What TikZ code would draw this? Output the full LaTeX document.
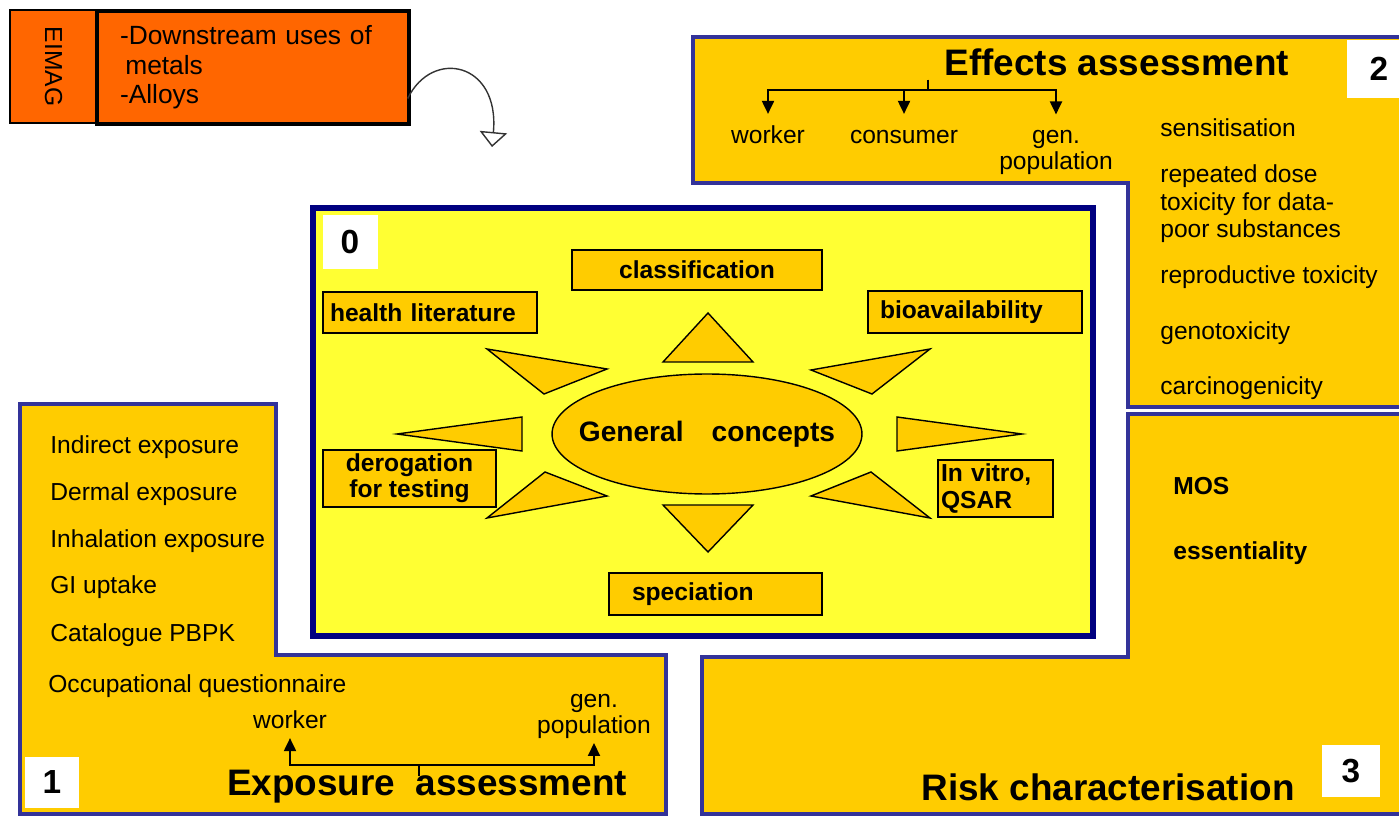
\documentclass[tikz,border=0pt]{standalone}
\usepackage{fontspec}
\setmainfont{Liberation Sans}
\usetikzlibrary{shapes.geometric,arrows.meta}
\definecolor{amber}{HTML}{FFCC00}
\definecolor{lemon}{HTML}{FFFF33}
\definecolor{flame}{HTML}{FF6600}
\definecolor{frame}{HTML}{333399}
\definecolor{navy}{HTML}{000080}
\tikzset{
  panel/.style={draw=frame, fill=amber, line width=2.8pt, line join=miter},
  core/.style={draw=navy, fill=lemon, line width=3.2pt},
  ray/.style={draw=black, fill=amber, line width=0.8pt, line join=miter},
  tagbox/.style={draw=black, fill=amber, line width=0.8pt, inner sep=0pt, font=\bfseries\fontsize{14}{15}\selectfont},
  item/.style={anchor=west, inner sep=0pt, font=\fontsize{14}{16}\selectfont},
  bitem/.style={anchor=west, inner sep=0pt, font=\bfseries\fontsize{14}{16}\selectfont},
  lab/.style={inner sep=0pt, align=center, font=\fontsize{14}{14.5}\selectfont},
  heading/.style={inner sep=0pt, font=\bfseries\fontsize{21}{24}\selectfont},
  numbox/.style={fill=white, inner sep=0pt, font=\bfseries\fontsize{19}{22}\selectfont},
  downtree/.style={line width=1.1pt, -{Triangle[length=0.26cm, width=0.24cm]}, shorten >=0.22cm},
  uptree/.style={line width=1.1pt, -{Triangle[length=0.26cm, width=0.24cm]}, shorten >=0.04cm},
  swoop/.style={draw=black!80, line width=0.8pt, -{Triangle[open, length=0.3cm, width=0.55cm]}},
}
\begin{document}
\begin{tikzpicture}[x=0.02cm, y=-0.02cm]
  \clip (0,0) rectangle (1399,817);
  \fill[white] (0,0) rectangle (1399,817);

  \node[draw=black, fill=flame, line width=1pt, rotate=-90, minimum width=2.26cm, minimum height=1.74cm, inner sep=0pt, font=\fontsize{14}{16}\selectfont] (eimag) at (53.5,66.5) {EIMAG};
  \node[draw=black, fill=flame, line width=2pt, minimum width=6.24cm, minimum height=2.26cm, inner xsep=0.46cm, inner ysep=0pt, text width=5.32cm, align=left, font=\fontsize{15}{16.8}\selectfont] (uses) at (253,67.5) {-Downstream uses of\\ \hspace*{3pt}metals\\-Alloys};
  \coordinate (arrowend) at (492,147);
  \draw[swoop] ([shift={(-3,31)}]uses.east) .. controls (432,48) and (500,62) .. (arrowend);

  \draw[panel] (693,37) -- (1410,37) -- (1410,407) -- (1128,407) -- (1128,183) -- (693,183) -- cycle;
  \draw[panel] (20,404) -- (276,404) -- (276,655) -- (666,655) -- (666,814) -- (20,814) -- cycle;
  \draw[panel] (1128,414) -- (1410,414) -- (1410,814) -- (702,814) -- (702,657) -- (1128,657) -- cycle;
  \draw[core] (313,208) rectangle (1093,636);

  \node[numbox, minimum width=1.1cm, minimum height=1.1cm] (num0) at (350,242) {0};
  \node[numbox, minimum width=1.1cm, minimum height=1.02cm] (num1) at (52,782) {1};
  \node[numbox, minimum width=1.3cm, minimum height=1.16cm] (num2) at (1379,69) {2};
  \node[numbox, minimum width=1.16cm, minimum height=1.04cm] (num3) at (1351,771) {3};

  \filldraw[ray] (708,313) -- (753,362) -- (663,362) -- cycle;
  \filldraw[ray] (663,505) -- (753,505) -- (708,552) -- cycle;
  \filldraw[ray] (487,349) -- (607,369) -- (544,394) -- cycle;
  \filldraw[ray] (930,349) -- (811,370) -- (872,394) -- cycle;
  \filldraw[ray] (397,434) -- (522,417) -- (522,451) -- cycle;
  \filldraw[ray] (1022,434) -- (897,417) -- (897,451) -- cycle;
  \filldraw[ray] (487,518) -- (545,472) -- (607,496) -- cycle;
  \filldraw[ray] (930,518) -- (871,472) -- (811,496) -- cycle;

  \node[ellipse, draw=black, fill=amber, line width=0.8pt, minimum width=6.2cm, minimum height=2.4cm, inner sep=0pt, font=\bfseries\fontsize{16}{18}\selectfont] (gc) at (707,434) {\makebox[0pt]{General\quad concepts}};

  \node[tagbox, minimum width=5cm, minimum height=0.8cm] (classif) at (697,270) {classification};
  \node[tagbox, minimum height=0.82cm, inner xsep=0.14cm, text width=4cm, align=left] (healthlit) at (430,312.5) {health literature};
  \node[tagbox, minimum height=0.84cm, inner xsep=0.24cm, text width=3.8cm, align=left] (bioavail) at (975,312) {bioavailability};
  \node[tagbox, minimum width=3.46cm, minimum height=1.14cm, align=center] (derog) at (409.5,478.5) {derogation\\for testing};
  \node[tagbox, minimum height=1.14cm, inner xsep=0.06cm, text width=2.18cm, align=left] (invitro) at (995.5,488.5) {In vitro,\\QSAR};
  \node[tagbox, minimum height=0.84cm, inner xsep=0.46cm, text width=3.34cm, align=left] (spec) at (715.5,594) {speciation};

  \node[heading] (effects) at (1117,62) {Effects assessment};
  \coordinate (eroot) at (928,80);
  \node[lab] (worker2) at (768,138) {\strut worker};
  \node[lab] (consumer2) at (904,138) {\strut consumer};
  \node[lab] (genpop2) at (1056,150) {\strut gen.\\population};
  \draw[downtree] (eroot) -- ++(0,10) -| (worker2.north);
  \draw[downtree] (eroot) -- ++(0,10) -| (consumer2.north);
  \draw[downtree] (eroot) -- ++(0,10) -| (genpop2.north);

  \node[item] (sens) at (1160,128) {sensitisation};
  \node[item, align=left, font=\fontsize{14}{15.6}\selectfont] (repdose) at (1160,204) {repeated dose\\toxicity for data-\\poor substances};
  \node[item] (reprotox) at (1160,277) {reproductive toxicity};
  \node[item] (genotox) at (1160,333) {genotoxicity};
  \node[item] (carcino) at (1160,388) {carcinogenicity};

  \node[item] (indirect) at (50,447) {Indirect exposure};
  \node[item] (dermal) at (50,494) {Dermal exposure};
  \node[item] (inhal) at (50,541) {Inhalation exposure};
  \node[item] (gi) at (50,587) {GI uptake};
  \node[item] (pbpk) at (50,635) {Catalogue PBPK};
  \node[item] (occup) at (48,686) {Occupational questionnaire};

  \node[heading] (exposure) at (427,787) {Exposure\ \ assessment};
  \coordinate (xroot) at (419,776);
  \node[lab] (worker1) at (290,723) {\strut worker};
  \node[lab, font=\fontsize{14}{13}\selectfont] (genpop1) at (594,716) {\strut gen.\\population\strut};
  \draw[uptree] (xroot) -- ++(0,-11) -| (worker1.south);
  \draw[uptree] (xroot) -- ++(0,-11) -| (genpop1.south);

  \node[bitem] (mos) at (1173,486) {MOS};
  \node[bitem] (essential) at (1173,553) {essentiality};
  \node[heading] (risk) at (1108,787) {Risk characterisation};
\end{tikzpicture}
\end{document}
